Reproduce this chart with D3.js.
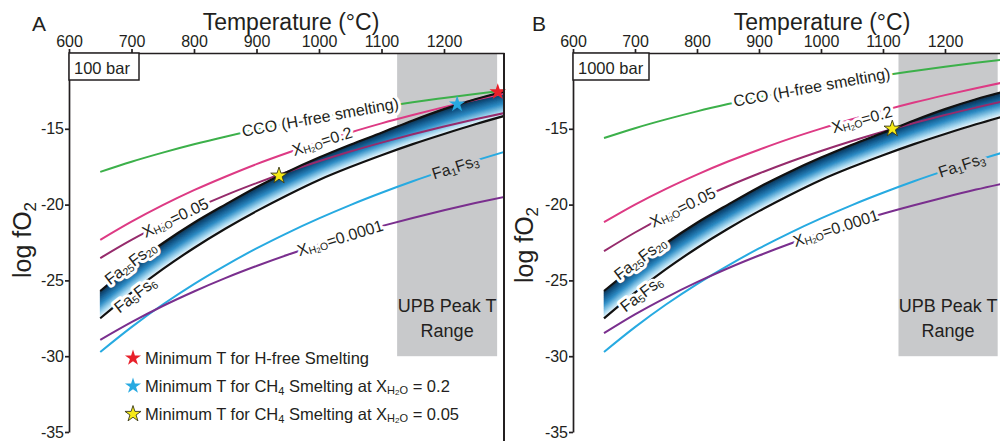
<!DOCTYPE html>
<html><head><meta charset="utf-8">
<script src="https://cdn.jsdelivr.net/npm/d3@7"></script>
<style>
body{margin:0;background:#fff}
svg{display:block}
text{font-family:"Liberation Sans",Arial,Helvetica,sans-serif;fill:#231f20}
</style>
</head><body>
<svg id="c" width="1000" height="441"></svg>
<script>
// ---------------- DATA ----------------
const temps = [650,700,750,800,850,900,950,1000,1050,1100,1150,1200,1250,1300];
// olivine/orthopyroxene buffer band (shared by both panels)
const fa25fs20 = [-25.7,-24.05,-22.55,-21.2,-20.0,-18.85,-17.83,-16.9,-16.05,-15.26,-14.45,-13.7,-13.05,-12.5];
const fa5fs6   = [-27.5,-25.8,-24.26,-22.86,-21.59,-20.43,-19.36,-18.37,-17.52,-16.74,-16.01,-15.34,-14.7,-14.11];
const fa1fs3   = [-29.72,-28.08,-26.59,-25.24,-24.02,-22.89,-21.86,-20.91,-20.03,-19.22,-18.46,-17.76,-17.1,-16.48];
// Panel A (100 bar)
const ccoA      = [-17.84,-17.17,-16.57,-16.02,-15.52,-15.06,-14.64,-14.25,-13.89,-13.56,-13.25,-12.97,-12.7,-12.45];
const xh2o02A   = [-22.33,-21.13,-20.04,-19.05,-18.16,-17.33,-16.58,-15.88,-15.24,-14.64,-14.09,-13.57,-13.09,-12.64];
const xh2o005A  = [-23.53,-22.33,-21.26,-20.28,-19.39,-18.58,-17.83,-17.14,-16.5,-15.91,-15.36,-14.85,-14.37,-13.93];
const xh2o0001A = [-28.93,-27.76,-26.69,-25.73,-24.85,-24.05,-23.31,-22.63,-22.0,-21.42,-20.88,-20.37,-19.9,-19.46];
// Panel B (1000 bar)
const ccoB      = [-15.61,-14.96,-14.38,-13.85,-13.37,-12.93,-12.52,-12.15,-11.8,-11.48,-11.19,-10.91,-10.65,-10.41];
const xh2o02B   = [-21.16,-20.0,-18.96,-18.02,-17.16,-16.38,-15.65,-14.99,-14.37,-13.8,-13.27,-12.78,-12.32,-11.89];
const xh2o005B  = [-23.07,-21.84,-20.72,-19.71,-18.79,-17.95,-17.17,-16.46,-15.8,-15.19,-14.62,-14.09,-13.6,-13.13];
const xh2o0001B = [-28.48,-27.24,-26.13,-25.12,-24.2,-23.36,-22.58,-21.87,-21.21,-20.6,-20.04,-19.51,-19.01,-18.55];

const xTicks = [600,700,800,900,1000,1100,1200];
const yTicks = [-35,-30,-25,-20,-15];
const upbRange = [1125,1285];
const upbFloor = -30;

const starsA = [{T:1286,v:-12.57,kind:"red"},{T:1221,v:-13.37,kind:"blue"},{T:936,v:-18.1,kind:"yellow"}];
const starsB = [{T:1115,v:-15.0,kind:"yellow"}];

const legendRows = [
  {kind:"red",    parts:[["Minimum T for H-free Smelting",16.5,0]]},
  {kind:"blue",   parts:[["Minimum T for CH",16.5,0],["4",11,3],[" Smelting at X",16.5,0],["H",11,2],["2",8,3],["O",11,2],[" = 0.2",16.5,0]]},
  {kind:"yellow", parts:[["Minimum T for CH",16.5,0],["4",11,3],[" Smelting at X",16.5,0],["H",11,2],["2",8,3],["O",11,2],[" = 0.05",16.5,0]]}
];

// ---------------- STYLE ----------------
const starColor = {red:"#e8202a", blue:"#27a9e1", yellow:"#f6ea16"};
const col = {cco:"#3cb04a", x02:"#dd3a84", x005:"#962b6c", x0001:"#7a2f8e", fa1:"#27aae1"};

const lblParts = {
  cco:   [["CCO (H-free smelting)",16,0]],
  x02:   [["X",16,0],["H",10.5,1.5],["2",7.5,2.5],["O",10.5,1.5],["=0.2",16,0]],
  x005:  [["X",16,0],["H",10.5,1.5],["2",7.5,2.5],["O",10.5,1.5],["=0.05",16,0]],
  x0001: [["X",16,0],["H",10.5,1.5],["2",7.5,2.5],["O",10.5,1.5],["=0.0001",16,0]],
  fa25:  [["Fa",16,0],["25",10.5,2.5],["Fs",16,0],["20",10.5,2.5]],
  fa5:   [["Fa",16,0],["5",10.5,2.5],["Fs",16,0],["6",10.5,2.5]],
  fa1:   [["Fa",16,0],["1",10.5,2.5],["Fs",16,0],["3",10.5,2.5]]
};

const svg = d3.select("#c");
const y = d3.scaleLinear().domain([-35,-10]).range([432,53]);
const fmt = d => String(d);

function addParts(textSel, parts){
  let prev = 0;
  parts.forEach(([t,s,off])=>{
    textSel.append("tspan").attr("font-size",s).attr("dy",off-prev).text(t);
    prev = off;
  });
}
function interp(arr,T){
  const i = Math.max(0,Math.min(temps.length-2, d3.bisectRight(temps,T)-1));
  const f = (T-temps[i])/(temps[i+1]-temps[i]);
  return arr[i]+(arr[i+1]-arr[i])*f;
}
function star(g,cx,cy,kind,size){
  g.append("path")
    .attr("d",d3.symbol().type(d3.symbolStar).size(size)())
    .attr("transform",`translate(${cx},${cy})`)
    .attr("fill",starColor[kind])
    .attr("stroke",kind==="yellow"?"#3a3a1a":"none")
    .attr("stroke-width",kind==="yellow"?0.9:0);
}

function panel(cfg){
  const x = d3.scaleLinear().domain([600,1296]).range(cfg.xr);
  const g = svg.append("g");
  const cid = "clip"+cfg.id;
  svg.append("defs").append("clipPath").attr("id",cid)
    .append("rect").attr("x",cfg.xr[0]).attr("y",53).attr("width",cfg.xr[1]-cfg.xr[0]).attr("height",379);

  // UPB range
  g.append("rect").attr("x",x(upbRange[0])).attr("y",y(-10))
    .attr("width",x(upbRange[1])-x(upbRange[0])).attr("height",y(upbFloor)-y(-10))
    .attr("fill","#c8c9cb");
  const ux = (x(upbRange[0])+x(upbRange[1]))/2;
  g.append("text").attr("x",ux).attr("y",312).attr("text-anchor","middle").attr("font-size",18)
    .text("UPB Peak T");
  g.append("text").attr("x",ux).attr("y",337).attr("text-anchor","middle").attr("font-size",18)
    .text("Range");

  const pg = g.append("g").attr("clip-path",`url(#${cid})`);
  // gradient band built from strips between the two buffer curves
  const N = 40;
  const cs = d3.scaleLinear().domain([0,0.22,0.5,0.8,1])
    .range(["#0a2944","#0e5487","#2a8ac4","#9fd4ee","#eef8fd"]);
  for(let k=0;k<N;k++){
    const a=k/N,b=(k+1)/N;
    const area = d3.area().curve(d3.curveMonotoneX)
      .x((d,i)=>x(temps[i]))
      .y0((d,i)=>y(fa25fs20[i]+(fa5fs6[i]-fa25fs20[i])*a))
      .y1((d,i)=>y(fa25fs20[i]+(fa5fs6[i]-fa25fs20[i])*b));
    const c = cs((a+b)/2);
    pg.append("path").attr("d",area(temps)).attr("fill",c).attr("stroke",c).attr("stroke-width",0.6);
  }
  const line = arr => d3.line().curve(d3.curveMonotoneX).x((d,i)=>x(temps[i])).y((d,i)=>y(arr[i]))(temps);
  cfg.lines.forEach(l=>{
    pg.append("path").attr("d",line(l.arr)).attr("fill","none").attr("stroke",l.color).attr("stroke-width",2);
  });
  [fa25fs20,fa5fs6].forEach(arr=>{
    pg.append("path").attr("d",line(arr)).attr("fill","none").attr("stroke","#111").attr("stroke-width",2.2);
  });

  // curve labels: a halo copy under the real text
  cfg.labels.forEach(L=>{
    const px = x(L.T), py = y(interp(L.arr,L.T)) + (L.off||0);
    const p1 = [x(L.T-15), y(interp(L.arr,L.T-15))], p2=[x(L.T+15), y(interp(L.arr,L.T+15))];
    const ang = Math.atan2(p2[1]-p1[1], p2[0]-p1[0])*180/Math.PI;
    const lg = g.append("g").attr("transform",`translate(${px},${py}) rotate(${ang})`);
    const h = lg.append("text").attr("y",5.5).attr("text-anchor","middle")
      .style("fill",L.halo||"#fff").attr("stroke",L.halo||"#fff").attr("stroke-width",6).attr("stroke-linejoin","round");
    addParts(h,lblParts[L.key]);
    const t = lg.append("text").attr("y",5.5).attr("text-anchor","middle");
    addParts(t,lblParts[L.key]);
  });

  // stars
  cfg.stars.forEach(s=>star(g,x(s.T),y(s.v),s.kind,85));

  // axes
  const ax = g.append("g").attr("transform","translate(0,53)")
    .call(d3.axisTop(x).tickValues(xTicks).tickFormat(fmt).tickSize(4).tickSizeOuter(0).tickPadding(2));
  const ay = g.append("g").attr("transform",`translate(${cfg.xr[0]},0)`)
    .call(d3.axisLeft(y).tickValues(yTicks).tickFormat(fmt).tickSize(4).tickSizeOuter(0).tickPadding(1));
  [ax,ay].forEach(a=>{
    a.selectAll("path,line").attr("stroke","#231f20").attr("stroke-width",1.7);
    a.selectAll("text").attr("font-size",16).attr("fill","#231f20")
      .attr("font-family","'Liberation Sans',Arial,sans-serif");
  });
  if(cfg.rightLine){
    g.append("line").attr("x1",cfg.xr[1]).attr("x2",cfg.xr[1]).attr("y1",53).attr("y2",441)
      .attr("stroke","#231f20").attr("stroke-width",2);
  }
  // pressure box
  g.append("rect").attr("x",cfg.xr[0]).attr("y",53).attr("width",cfg.boxW).attr("height",27)
    .attr("fill","#fff").attr("stroke","#231f20").attr("stroke-width",1.5);
  g.append("text").attr("x",cfg.xr[0]+5).attr("y",74).attr("font-size",16.5).text(cfg.pressure);

  // titles
  g.append("text").attr("x",cfg.titleX).attr("y",30).attr("text-anchor","middle").attr("font-size",23).text("Temperature (°C)");
  g.append("text").attr("x",cfg.letterX).attr("y",31).attr("font-size",21).text(cfg.letter);
  const yl = g.append("text").attr("transform",`translate(${cfg.ylab[0]},${cfg.ylab[1]}) rotate(-90)`)
    .attr("text-anchor","middle").attr("font-size",25);
  yl.append("tspan").text("log fO");
  yl.append("tspan").attr("font-size",17).attr("dy",5).text("2");
  return x;
}

panel({
  id:"A", xr:[69,504], rightLine:true, boxW:70, pressure:"100 bar", titleX:291, letterX:32, letter:"A", ylab:[31,240],
  lines:[{arr:ccoA,color:col.cco},{arr:xh2o02A,color:col.x02},{arr:xh2o005A,color:col.x005},
         {arr:fa1fs3,color:col.fa1},{arr:xh2o0001A,color:col.x0001}],
  labels:[{key:"cco",arr:ccoA,T:1002},{key:"x02",arr:xh2o02A,T:1005},{key:"x005",arr:xh2o005A,T:770},
          {key:"fa25",arr:fa25fs20,T:698,off:-4},{key:"fa5",arr:fa5fs6,T:706,off:5},
          {key:"fa1",arr:fa1fs3,T:1218,halo:"#c8c9cb"},{key:"x0001",arr:xh2o0001A,T:1034}],
  stars:starsA
});
panel({
  id:"B", xr:[573,1004.5], rightLine:false, boxW:76, pressure:"1000 bar", titleX:822, letterX:532, letter:"B", ylab:[533,245],
  lines:[{arr:ccoB,color:col.cco},{arr:xh2o02B,color:col.x02},{arr:xh2o005B,color:col.x005},
         {arr:fa1fs3,color:col.fa1},{arr:xh2o0001B,color:col.x0001}],
  labels:[{key:"cco",arr:ccoB,T:985},{key:"x02",arr:xh2o02B,T:1066,off:3},{key:"x005",arr:xh2o005B,T:777},
          {key:"fa25",arr:fa25fs20,T:708,off:-4},{key:"fa5",arr:fa5fs6,T:710,off:6},
          {key:"fa1",arr:fa1fs3,T:1227,halo:"#c8c9cb"},{key:"x0001",arr:xh2o0001B,T:1024}],
  stars:starsB
});

// legend (panel A)
const lgd = svg.append("g");
const rowY = [364,392,420];
legendRows.forEach((r,i)=>{
  star(lgd,133,rowY[i]-6,r.kind,80);
  const t = lgd.append("text").attr("x",145).attr("y",rowY[i]);
  addParts(t,r.parts);
});
</script>
</body></html>
